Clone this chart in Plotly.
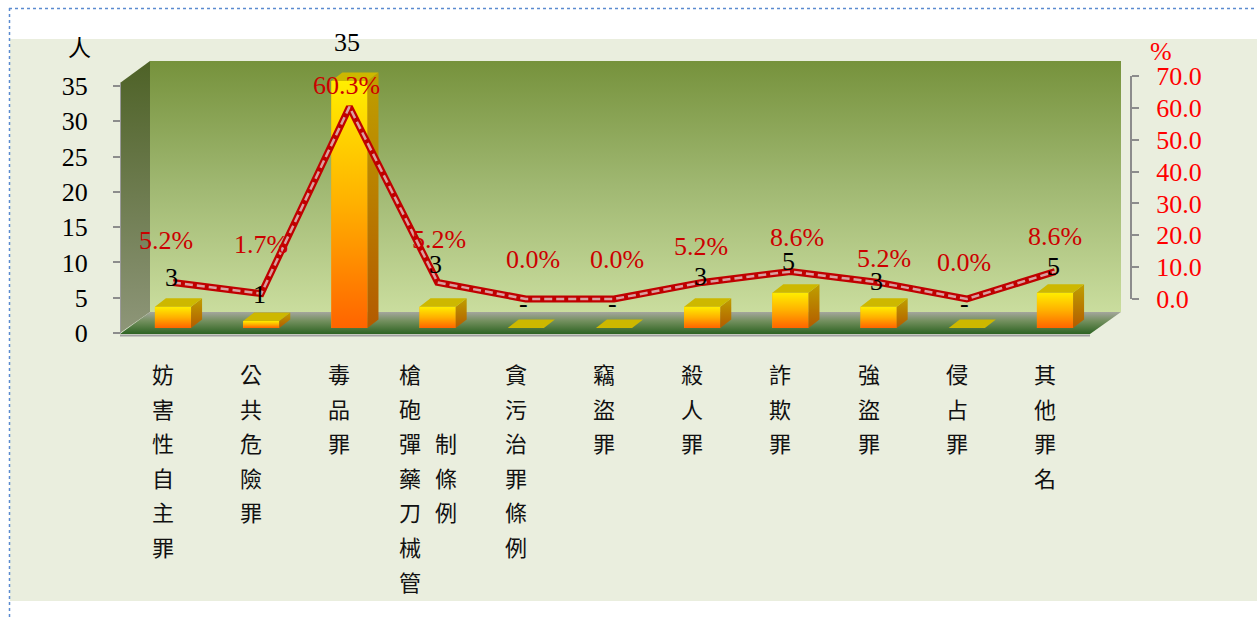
import plotly.graph_objects as go

# ---------------- data ----------------
categories = ["妨害性自主罪", "公共危險罪", "毒品罪", "槍砲彈藥刀械管制條例", "貪污治罪條例",
              "竊盜罪", "殺人罪", "詐欺罪", "強盜罪", "侵占罪", "其他罪名"]
counts = [3, 1, 35, 3, 0, 0, 3, 5, 3, 0, 5]
percents = [5.2, 1.7, 60.3, 5.2, 0.0, 0.0, 5.2, 8.6, 5.2, 0.0, 8.6]
count_ticks = [0, 5, 10, 15, 20, 25, 30, 35]
percent_ticks = [0, 10, 20, 30, 40, 50, 60, 70]
count_unit = "人"
percent_unit = "%"

# ---------------- layout constants (pixels) ----------------
W, H = 1257, 617
n = len(categories)
idx = list(range(n))


def fx(px):
    return px / W


def fy(py):
    return 1 - py / H


X_FIRST, X_STEP = 173.0, 88.2
CNT_ZERO, CNT_PX = 333.0, 7.057
PCT_ZERO, PCT_PX = 299.0, 3.186
BAR_W = 0.41
HW = BAR_W / 2
DX = 11 / X_STEP
DY = 8.5 / CNT_PX
B0 = 5 / CNT_PX  # bars stand slightly inside the 3D floor

SERIF = "Liberation Serif"
CJK = "Noto Sans CJK TC"

# label offsets (style)
count_label_dy = [34, 31, 44, 47, 30, 30, 35, 36, 30, 30, 31]
pct_label_dy = [42, 49, 21, 43, 40, 40, 36, 34, 24, 37, 35]
pct_label_dx = [-7, 0, -3, 1, 7, 3, -1, 7, 5, -3, 0]

fig = go.Figure()


def deco_poly(xs, ys, scale, start, stop):
    fig.add_trace(go.Scatter(
        x=xs, y=ys, mode="lines", fill="toself", line=dict(width=0),
        fillgradient=dict(type="vertical", colorscale=scale, start=start, stop=stop),
        xaxis="x", yaxis="y", hoverinfo="skip", showlegend=False))


# side wall, back wall, floor (pixel-based decoration subplot)
deco_poly([120, 150, 150, 120, 120], [83, 61, 312, 333, 83],
          [[0, "#4E6227"], [1, "#8E9679"]], 61, 333)
deco_poly([150, 1121, 1121, 150, 150], [61, 61, 312, 312, 61],
          [[0, "#76923C"], [0.5, "#A0B872"], [1, "#CADD9E"]], 61, 312)
deco_poly([150, 1121, 1090, 120, 150], [312, 312, 334, 334, 312],
          [[0, "#A4A69D"], [0.4, "#74905F"], [1, "#2D6322"]], 312, 334)
fig.add_trace(go.Scatter(x=[120, 1090], y=[335.5, 335.5], mode="lines",
                         line=dict(color="#A0A0A0", width=2), xaxis="x", yaxis="y",
                         hoverinfo="skip", showlegend=False))
fig.add_trace(go.Scatter(x=[120.5, 120.5], y=[83, 333], mode="lines",
                         line=dict(color="#9A9A9A", width=1), xaxis="x", yaxis="y",
                         hoverinfo="skip", showlegend=False))

# ---------------- bars ----------------
fig.add_trace(go.Bar(x=idx, y=counts, base=B0, width=BAR_W,
                     marker=dict(color="#FFA800", line=dict(width=0)),
                     xaxis="x2", yaxis="y2", hoverinfo="skip", showlegend=False))
for i, v in zip(idx, counts):
    if v <= 0:
        continue
    fig.add_trace(go.Scatter(
        x=[i - HW, i + HW, i + HW, i - HW, i - HW], y=[B0, B0, B0 + v, B0 + v, B0],
        mode="lines", fill="toself", line=dict(width=0),
        fillgradient=dict(type="vertical", start=B0, stop=B0 + v,
                          colorscale=[[0, "#FF6400"], [0.5, "#FFB000"], [1, "#FFEE00"]]),
        xaxis="x2", yaxis="y2", hoverinfo="skip", showlegend=False))
    fig.add_trace(go.Scatter(
        x=[i + HW, i + HW + DX, i + HW + DX, i + HW, i + HW],
        y=[B0, B0 + DY, B0 + v + DY, B0 + v, B0],
        mode="lines", fill="toself", line=dict(width=0),
        fillgradient=dict(type="vertical", start=B0, stop=B0 + v + DY,
                          colorscale=[[0, "#B35A00"], [1, "#BFA000"]]),
        xaxis="x2", yaxis="y2", hoverinfo="skip", showlegend=False))
tx, ty = [], []
for i, v in zip(idx, counts):
    tx += [i - HW, i + HW, i + HW + DX, i - HW + DX, i - HW, None]
    ty += [B0 + v, B0 + v, B0 + v + DY, B0 + v + DY, B0 + v, None]
fig.add_trace(go.Scatter(x=tx, y=ty, mode="lines", fill="toself", fillcolor="#CDB800",
                         line=dict(width=0), xaxis="x2", yaxis="y2",
                         hoverinfo="skip", showlegend=False))

# ---------------- percent line ----------------
fig.add_trace(go.Scatter(x=idx, y=percents, mode="lines",
                         line=dict(color="#C00000", width=7), xaxis="x2", yaxis="y3",
                         hoverinfo="skip", showlegend=False))
fig.add_trace(go.Scatter(x=idx, y=percents, mode="lines",
                         line=dict(color="#D9A0A0", width=2.5, dash="8px,4px"),
                         xaxis="x2", yaxis="y3", hoverinfo="skip", showlegend=False))

# ---------------- annotations ----------------
ann = []
for i, v in zip(idx, counts):
    ann.append(dict(x=i, y=v, xref="x2", yref="y2", text=str(v) if v else "-",
                    showarrow=False, xshift=-2, yshift=count_label_dy[i],
                    xanchor="center", yanchor="middle",
                    font=dict(family=SERIF, size=26, color="#000000")))
for i, p in zip(idx, percents):
    ann.append(dict(x=i, y=p, xref="x2", yref="y3", text=f"{p:.1f}%",
                    showarrow=False, xshift=pct_label_dx[i], yshift=pct_label_dy[i],
                    xanchor="center", yanchor="middle",
                    font=dict(family=SERIF, size=26, color="#CC0000")))

ROW0, ROW_STEP, COL_STEP, MAXROWS = 373.0, 34.6, 36.0, 7
for i, name in enumerate(categories):
    cols = [name[k:k + MAXROWS] for k in range(0, len(name), MAXROWS)]
    nc = len(cols)
    for c, col in enumerate(cols):
        start_row = (len(cols[0]) - len(col)) // 2
        for r, ch in enumerate(col):
            ann.append(dict(x=i, xref="x2", y=fy(ROW0 + (start_row + r) * ROW_STEP), yref="paper",
                            text=ch, showarrow=False, xshift=-10 + (c - (nc - 1) / 2) * COL_STEP,
                            xanchor="center", yanchor="middle",
                            font=dict(family=CJK, size=22, color="#111111")))

ann.append(dict(x=fx(79), y=fy(46), xref="paper", yref="paper", text=count_unit,
                showarrow=False, xanchor="center", yanchor="middle",
                font=dict(family=CJK, size=23, color="#000000")))
ann.append(dict(x=fx(1161), y=fy(51), xref="paper", yref="paper", text=percent_unit,
                showarrow=False, xanchor="center", yanchor="middle",
                font=dict(family=SERIF, size=26, color="#FF0000")))

shapes = [
    dict(type="rect", xref="paper", yref="paper", x0=fx(10), x1=1, y0=fy(601), y1=fy(39),
         fillcolor="#EAEEDE", line=dict(width=0), layer="below"),
    dict(type="line", xref="paper", yref="paper", x0=fx(9), x1=1, y0=fy(8.5), y1=fy(8.5),
         line=dict(color="#5B8BD0", width=1.5, dash="dot"), layer="above"),
    dict(type="line", xref="paper", yref="paper", x0=fx(9.5), x1=fx(9.5), y0=fy(8), y1=0,
         line=dict(color="#5B8BD0", width=1.5, dash="dot"), layer="above"),
    dict(type="line", xref="paper", yref="y3", x0=fx(1131), x1=fx(1131),
         y0=percent_ticks[0], y1=percent_ticks[-1],
         line=dict(color="#8C8C8C", width=2), layer="above"),
]

fig.update_layout(
    width=W, height=H, autosize=False,
    margin=dict(l=0, r=0, t=0, b=0, pad=0, autoexpand=False),
    paper_bgcolor="#FFFFFF", plot_bgcolor="rgba(0,0,0,0)",
    showlegend=False, hovermode=False,
    font=dict(family=SERIF, size=26, color="#000000"),
    annotations=ann, shapes=shapes,
    xaxis=dict(domain=[0, 1], range=[0, W], visible=False, anchor="y", fixedrange=True,
               automargin=False),
    yaxis=dict(domain=[0, 1], range=[H, 0], visible=False, anchor="x", fixedrange=True,
               automargin=False),
    xaxis2=dict(domain=[fx(X_FIRST - X_STEP / 2), fx(X_FIRST + (n - 0.5) * X_STEP)],
                range=[-0.5, n - 0.5], visible=False, anchor="y2", fixedrange=True,
                automargin=False),
    yaxis2=dict(domain=[fy(CNT_ZERO), fy(40)], range=[0, (CNT_ZERO - 40) / CNT_PX],
                anchor="free", position=fx(120), side="left",
                tickmode="array", tickvals=count_ticks,
                ticks="outside", ticklen=7, tickwidth=2, tickcolor="#8C8C8C",
                showgrid=False, zeroline=False, showline=False,
                tickfont=dict(family=SERIF, size=26, color="#000000"),
                ticklabelstandoff=20, fixedrange=True, automargin=False),
    yaxis3=dict(domain=[fy(330), fy(50)],
                range=[-(330 - PCT_ZERO) / PCT_PX, (PCT_ZERO - 50) / PCT_PX],
                anchor="free", position=fx(1131), side="right",
                tickmode="array", tickvals=percent_ticks, tickformat=".1f",
                ticks="outside", ticklen=7, tickwidth=2, tickcolor="#8C8C8C",
                showgrid=False, zeroline=False, showline=False,
                tickfont=dict(family=SERIF, size=26, color="#FF0000"),
                ticklabelstandoff=12, fixedrange=True, automargin=False),
)

fig.write_html("out.html", config={"displayModeBar": False})
